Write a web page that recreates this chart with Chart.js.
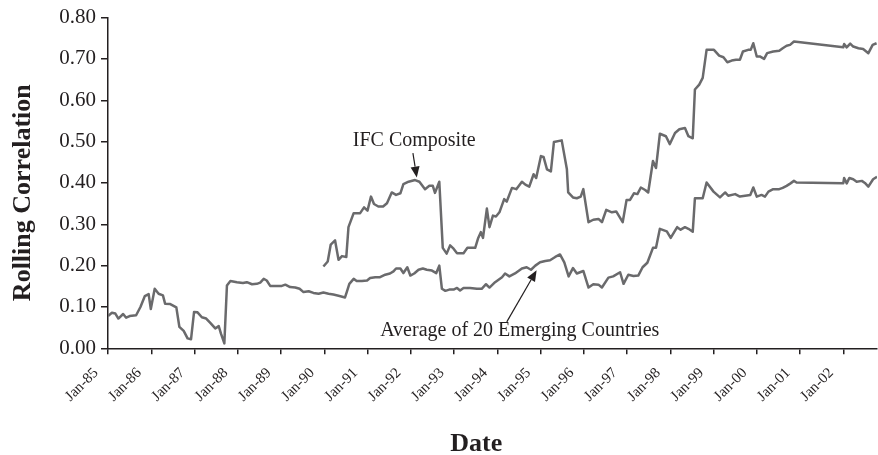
<!DOCTYPE html>
<html>
<head>
<meta charset="utf-8">
<script src="https://cdn.jsdelivr.net/npm/chart.js@4.4.0/dist/chart.umd.min.js"></script>
<style>
  body { margin: 0; background: #fff; }
  #wrap { width: 878px; height: 455px; }
</style>
</head>
<body>
<div id="wrap"><canvas id="chart"></canvas></div>
<script>
// dates are decimal years (1985.00 = Jan-85)
const avgDates = [
  1985.00, 1985.09, 1985.17, 1985.24, 1985.35, 1985.42, 1985.50, 1985.65, 1985.75, 1985.85, 1985.94, 1985.99,
  1986.08, 1986.17, 1986.27, 1986.32, 1986.44, 1986.58, 1986.65, 1986.75, 1986.84, 1986.92, 1986.99,
  1987.07, 1987.17, 1987.27, 1987.36, 1987.48, 1987.56, 1987.61, 1987.69, 1987.75, 1987.83, 1987.98,
  1988.12, 1988.21, 1988.33, 1988.44, 1988.52, 1988.60, 1988.67, 1988.75,
  1989.02, 1989.10, 1989.21, 1989.33, 1989.43, 1989.52, 1989.64, 1989.75, 1989.87, 1989.98,
  1990.10, 1990.21, 1990.33, 1990.48, 1990.52, 1990.58, 1990.68, 1990.75, 1990.87, 1990.99,
  1991.06, 1991.18, 1991.29, 1991.41, 1991.52, 1991.60, 1991.66, 1991.76, 1991.83, 1991.92, 1991.99,
  1992.08, 1992.18, 1992.28, 1992.37, 1992.49, 1992.59, 1992.66, 1992.72, 1992.80, 1992.89, 1992.99,
  1993.07, 1993.14, 1993.22, 1993.37, 1993.53, 1993.64, 1993.74, 1993.82, 1993.95,
  1994.11, 1994.18, 1994.28, 1994.41, 1994.57, 1994.68, 1994.78, 1994.88, 1994.99,
  1995.11, 1995.22, 1995.34, 1995.45, 1995.55, 1995.65, 1995.75, 1995.84, 1995.99,
  1996.11, 1996.22, 1996.34, 1996.42, 1996.57, 1996.68, 1996.84, 1996.92,
  1997.03, 1997.15, 1997.26, 1997.36, 1997.47, 1997.60, 1997.67, 1997.76, 1997.92,
  1998.01, 1998.16, 1998.24, 1998.34, 1998.42, 1998.52, 1998.57, 1998.75, 1998.84,
  1999.00, 1999.15, 1999.27, 1999.34, 1999.50, 1999.61, 1999.85, 1999.92,
  2000.00, 2000.11, 2000.19, 2000.27, 2000.38, 2000.52, 2000.60, 2000.69, 2000.78, 2000.86, 2000.92,
  2002.00, 2002.02, 2002.08, 2002.14, 2002.23, 2002.31, 2002.43, 2002.50, 2002.58, 2002.69, 2002.78
];
const avgValues = [
  0.078, 0.086, 0.084, 0.072, 0.083, 0.074, 0.078, 0.080, 0.100, 0.126, 0.131, 0.095,
  0.144, 0.132, 0.128, 0.108, 0.107, 0.099, 0.052, 0.042, 0.024, 0.022, 0.088,
  0.087, 0.075, 0.072, 0.062, 0.048, 0.054, 0.036, 0.012, 0.152, 0.163, 0.160,
  0.158, 0.160, 0.155, 0.156, 0.159, 0.168, 0.164, 0.151,
  0.151, 0.154, 0.148, 0.147, 0.144, 0.136, 0.138, 0.134, 0.132, 0.135,
  0.132, 0.130, 0.127, 0.123, 0.136, 0.156, 0.168, 0.163, 0.163, 0.164,
  0.170, 0.172, 0.172, 0.178, 0.181, 0.186, 0.193, 0.193, 0.182, 0.196, 0.176,
  0.181, 0.190, 0.193, 0.190, 0.188, 0.182, 0.200, 0.144, 0.139, 0.142, 0.142,
  0.146, 0.140, 0.146, 0.146, 0.144, 0.144, 0.155, 0.147, 0.160,
  0.172, 0.181, 0.174, 0.181, 0.193, 0.196, 0.190, 0.200, 0.208,
  0.211, 0.213, 0.221, 0.227, 0.208, 0.174, 0.194, 0.181, 0.187,
  0.147, 0.155, 0.154, 0.147, 0.171, 0.174, 0.184, 0.156,
  0.178, 0.175, 0.176, 0.196, 0.207, 0.243, 0.243, 0.289, 0.283,
  0.267, 0.293, 0.287, 0.293, 0.289, 0.282, 0.363, 0.363, 0.401,
  0.379, 0.365, 0.377, 0.369, 0.373, 0.367, 0.371, 0.389,
  0.367, 0.371, 0.367, 0.379, 0.385, 0.385, 0.388, 0.393, 0.399, 0.405, 0.401,
  0.399, 0.412, 0.399, 0.412, 0.409, 0.403, 0.405, 0.400, 0.391, 0.409, 0.415
];

const ifcDates = [
  1989.98, 1990.08, 1990.15, 1990.25, 1990.33, 1990.41, 1990.51, 1990.56, 1990.68, 1990.83, 1990.92,
  1991.00, 1991.08, 1991.15, 1991.25, 1991.36, 1991.45, 1991.56, 1991.66, 1991.76, 1991.83, 1991.95,
  1992.10, 1992.20, 1992.33, 1992.43, 1992.51, 1992.56, 1992.66, 1992.74, 1992.83, 1992.91, 1992.99,
  1993.07, 1993.22, 1993.31, 1993.49, 1993.56, 1993.62, 1993.67, 1993.76, 1993.82, 1993.90, 1993.97,
  1994.05, 1994.16, 1994.22, 1994.34, 1994.44, 1994.57, 1994.65, 1994.74, 1994.84, 1994.90,
  1995.01, 1995.07, 1995.15, 1995.24, 1995.31, 1995.49, 1995.61, 1995.64, 1995.75, 1995.84, 1995.93, 1995.99,
  1996.11, 1996.22, 1996.34, 1996.42, 1996.52, 1996.65, 1996.75, 1996.90, 1996.99,
  1997.07, 1997.16, 1997.24, 1997.32, 1997.42, 1997.49, 1997.60, 1997.67, 1997.76, 1997.90, 1997.99,
  1998.11, 1998.21, 1998.34, 1998.42, 1998.52, 1998.57, 1998.67, 1998.75, 1998.84,
  1999.01, 1999.13, 1999.23, 1999.32, 1999.42, 1999.52, 1999.61, 1999.68, 1999.80, 1999.86, 1999.92,
  2000.00, 2000.07, 2000.17, 2000.24, 2000.38, 2000.52, 2000.60, 2000.69, 2000.77, 2000.86,
  2002.00, 2002.02, 2002.08, 2002.16, 2002.23, 2002.35, 2002.46, 2002.58, 2002.68, 2002.77
];
const ifcValues = [
  0.198, 0.210, 0.251, 0.261, 0.214, 0.223, 0.221, 0.293, 0.327, 0.327, 0.341,
  0.333, 0.367, 0.349, 0.343, 0.343, 0.351, 0.377, 0.371, 0.375, 0.397, 0.403,
  0.407, 0.403, 0.385, 0.393, 0.393, 0.376, 0.403, 0.243, 0.229, 0.249, 0.241,
  0.230, 0.230, 0.243, 0.243, 0.267, 0.281, 0.267, 0.338, 0.293, 0.321, 0.319,
  0.329, 0.361, 0.355, 0.388, 0.385, 0.403, 0.396, 0.391, 0.421, 0.412,
  0.465, 0.463, 0.433, 0.428, 0.499, 0.503, 0.433, 0.377, 0.365, 0.363, 0.367, 0.385,
  0.305, 0.311, 0.313, 0.305, 0.335, 0.329, 0.331, 0.305, 0.359,
  0.359, 0.375, 0.373, 0.389, 0.383, 0.377, 0.453, 0.436, 0.519, 0.513, 0.494,
  0.521, 0.530, 0.533, 0.513, 0.508, 0.626, 0.638, 0.654, 0.722,
  0.722, 0.708, 0.704, 0.692, 0.696, 0.698, 0.698, 0.718, 0.722, 0.722, 0.738,
  0.706, 0.706, 0.700, 0.714, 0.718, 0.720, 0.726, 0.732, 0.734, 0.742,
  0.728, 0.736, 0.728, 0.737, 0.730, 0.726, 0.724, 0.714, 0.734, 0.738
];

const firstYear = 1985;
const lastDate = 2002.78;

const lineColor = '#6a6a6c';
const inkColor = '#231f20';
const serif = "'Liberation Serif', 'Times New Roman', serif";

// labels with arrows, placed in data coordinates
const notes = [
  { text: 'IFC Composite', at: [1992.08, 0.501], from: [1992.05, 0.472], to: [1992.14, 0.413] },
  { text: 'Average of 20 Emerging Countries', at: [1994.52, 0.042], from: [1994.22, 0.064], to: [1994.91, 0.189] }
];

function toPoints(dates, values) {
  return dates.map((d, i) => ({ x: d, y: values[i] }));
}

const notePlugin = {
  id: 'notes',
  afterDatasetsDraw(chart) {
    const { ctx, scales: { x, y } } = chart;
    ctx.save();
    ctx.fillStyle = inkColor;
    ctx.strokeStyle = inkColor;
    ctx.font = '20px ' + serif;
    ctx.textAlign = 'center';
    ctx.textBaseline = 'middle';
    notes.forEach(n => {
      ctx.fillText(n.text, x.getPixelForValue(n.at[0]), y.getPixelForValue(n.at[1]));
      const x1 = x.getPixelForValue(n.from[0]), y1 = y.getPixelForValue(n.from[1]);
      const x2 = x.getPixelForValue(n.to[0]), y2 = y.getPixelForValue(n.to[1]);
      const ang = Math.atan2(y2 - y1, x2 - x1);
      const len = 11, half = 4.5;
      const bx = x2 - len * Math.cos(ang), by = y2 - len * Math.sin(ang);
      ctx.lineWidth = 1.2;
      ctx.beginPath();
      ctx.moveTo(x1, y1);
      ctx.lineTo(bx, by);
      ctx.stroke();
      ctx.beginPath();
      ctx.moveTo(x2, y2);
      ctx.lineTo(bx + half * Math.sin(ang), by - half * Math.cos(ang));
      ctx.lineTo(bx - half * Math.sin(ang), by + half * Math.cos(ang));
      ctx.closePath();
      ctx.fill();
    });
    ctx.restore();
  }
};

new Chart(document.getElementById('chart'), {
  type: 'line',
  data: {
    datasets: [
      {
        label: 'Average of 20 Emerging Countries',
        data: toPoints(avgDates, avgValues),
        borderColor: lineColor,
        borderWidth: 2.5,
        pointRadius: 0,
        tension: 0,
        borderJoinStyle: 'round'
      },
      {
        label: 'IFC Composite',
        data: toPoints(ifcDates, ifcValues),
        borderColor: lineColor,
        borderWidth: 2.5,
        pointRadius: 0,
        tension: 0,
        borderJoinStyle: 'round'
      }
    ]
  },
  options: {
    responsive: true,
    maintainAspectRatio: false,
    animation: false,
    layout: { padding: { top: 16, right: 1, left: 0, bottom: 0 } },
    plugins: {
      legend: { display: false },
      tooltip: { enabled: false }
    },
    scales: {
      x: {
        type: 'linear',
        min: firstYear,
        max: lastDate,
        afterBuildTicks: scale => {
          scale.ticks = scale.ticks.filter(t => Number.isInteger(t.value));
        },
        afterFit: scale => { scale.height = 106.7; },
        grid: { drawOnChartArea: false, tickLength: 6, color: inkColor, lineWidth: 1.5 },
        border: { color: inkColor, width: 1.5 },
        ticks: {
          stepSize: 1,
          autoSkip: false,
          maxRotation: 45,
          minRotation: 45,
          padding: 10,
          labelOffset: -12,
          color: inkColor,
          font: { family: serif, size: 15 },
          callback: v => 'Jan-' + String(v).slice(2)
        },
        title: {
          display: true,
          // trailing spaces nudge the word left, as in the original
          text: 'Date\u00a0\u00a0\u00a0\u00a0\u00a0',
          color: inkColor,
          padding: { top: 0, bottom: -2 },
          font: { family: serif, size: 26, weight: 'bold', lineHeight: 1 }
        }
      },
      y: {
        min: 0,
        max: 0.8,
        afterFit: scale => { scale.width = 108; },
        grid: { drawOnChartArea: false, tickLength: 7, color: inkColor, lineWidth: 1.5 },
        border: { color: inkColor, width: 1.5 },
        ticks: {
          stepSize: 0.1,
          padding: 5,
          color: inkColor,
          font: { family: serif, size: 21 },
          callback: v => v.toFixed(2)
        },
        title: {
          display: true,
          // trailing spaces nudge the rotated title down a little
          text: 'Rolling Correlation\u00a0\u00a0\u00a0',
          color: inkColor,
          padding: { top: 8, bottom: 0 },
          font: { family: serif, size: 26, weight: 'bold', lineHeight: 1.2 }
        }
      }
    }
  },
  plugins: [notePlugin]
});
</script>
</body>
</html>
